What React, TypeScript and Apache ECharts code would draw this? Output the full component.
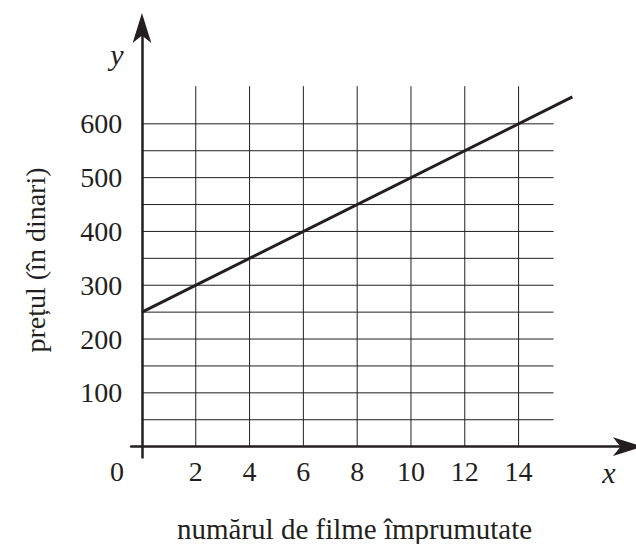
import React, { useEffect, useRef } from 'react';
import * as echarts from 'echarts';

// Tick labels
const xLabelValues = [0, 2, 4, 6, 8, 10, 12, 14];
const yLabelValues = [100, 200, 300, 400, 500, 600];

// Grid lines (vertical at even x, horizontal every 50)
const gridXs = [2, 4, 6, 8, 10, 12, 14];
const gridYs = [50, 100, 150, 200, 250, 300, 350, 400, 450, 500, 550, 600];
const gridXEnd = 15.3;
const gridYEnd = 670;

// Data line: price vs number of borrowed films
const lineX = [0, 16];
const lineY = [250, 650];

const INK = '#231f20';
const FONT = 'Liberation Serif, serif';
const FS = 28;

export default function App() {
  const ref = useRef<HTMLDivElement>(null);

  useEffect(() => {
    if (!ref.current) return;
    const chart = echarts.init(ref.current, undefined, { renderer: 'svg' });

    const gridSegments: number[][] = [];
    gridXs.forEach((x) => gridSegments.push([x, 0, x, gridYEnd]));
    gridYs.forEach((y) => gridSegments.push([0, y, gridXEnd, y]));

    const lineData = lineX.map((x, i) => [x, lineY[i]]);

    chart.setOption({
      animation: false,
      grid: { left: 131.2, right: 16, top: 27, bottom: 86.6, containLabel: false },
      xAxis: {
        type: 'value',
        min: -0.4,
        max: 17.77,
        axisLine: {
          onZero: true,
          symbol: ['none', 'arrow'],
          symbolSize: [14, 30],
          symbolOffset: [0, 23],
          lineStyle: { color: INK, width: 2.5 },
        },
        axisTick: { show: false },
        splitLine: { show: false },
        axisLabel: {
          customValues: xLabelValues,
          fontFamily: FONT,
          fontSize: FS,
          color: INK,
          margin: 0,
          formatter: (v: number) => (v === 0 ? '{z|0}' : String(v)),
          rich: {
            z: { fontFamily: FONT, fontSize: FS, color: INK, padding: [0, 50, 0, 0] },
          },
        },
      },
      yAxis: {
        type: 'value',
        min: -20,
        max: 780,
        axisLine: {
          onZero: true,
          symbol: ['none', 'arrow'],
          symbolSize: [14, 30],
          symbolOffset: [0, 14],
          lineStyle: { color: INK, width: 2.5 },
        },
        axisTick: { show: false },
        splitLine: { show: false },
        axisLabel: {
          customValues: yLabelValues,
          fontFamily: FONT,
          fontSize: FS,
          color: INK,
          margin: 9,
        },
      },
      graphic: [
        {
          type: 'text',
          x: 35,
          y: 260,
          rotation: Math.PI / 2,
          style: {
            text: 'prețul (în dinari)',
            font: FS + 'px ' + FONT,
            fill: INK,
            align: 'center',
            verticalAlign: 'middle',
          },
        },
        {
          type: 'text',
          x: 177,
          y: 529,
          style: {
            text: 'numărul de filme împrumutate',
            font: '29px ' + FONT,
            fill: INK,
            align: 'left',
            verticalAlign: 'middle',
          },
        },
        {
          type: 'text',
          x: 609,
          y: 472,
          style: {
            text: 'x',
            font: 'italic 30px ' + FONT,
            fill: INK,
            align: 'center',
            verticalAlign: 'middle',
          },
        },
        {
          type: 'text',
          x: 117,
          y: 54,
          style: {
            text: 'y',
            font: 'italic 30px ' + FONT,
            fill: INK,
            align: 'center',
            verticalAlign: 'middle',
          },
        },
      ],
      series: [
        {
          type: 'custom',
          data: gridSegments,
          clip: false,
          silent: true,
          z: 1,
          renderItem: (params: any, api: any) => {
            const p1 = api.coord([api.value(0), api.value(1)]);
            const p2 = api.coord([api.value(2), api.value(3)]);
            return {
              type: 'line',
              shape: { x1: p1[0], y1: p1[1], x2: p2[0], y2: p2[1] },
              style: { stroke: INK, lineWidth: 1 },
            };
          },
        },
        {
          type: 'line',
          data: lineData,
          showSymbol: false,
          symbol: 'none',
          clip: false,
          z: 5,
          lineStyle: { color: INK, width: 3 },
        },
      ],
    });

    return () => chart.dispose();
  }, []);

  return (
    <div
      ref={ref}
      style={{ position: 'absolute', left: 0, top: 0, width: 636, height: 544 }}
    />
  );
}
